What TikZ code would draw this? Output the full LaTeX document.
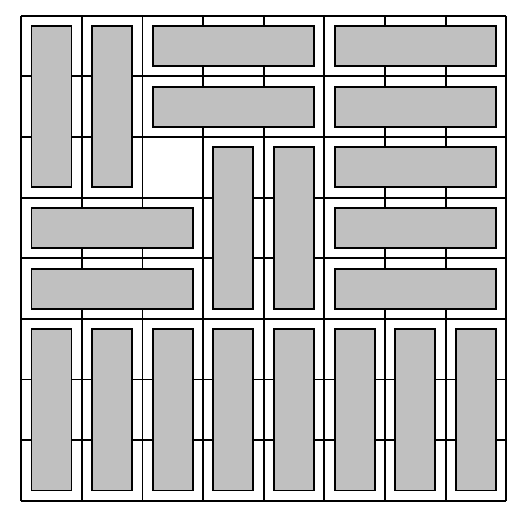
\documentclass[tikz,border=0pt]{standalone}
\usepackage{tikz}
\definecolor{tilegray}{RGB}{192,192,192}

\begin{document}
\begin{tikzpicture}[grid/.style = {draw, line width=0.85pt}, tile/.style = {draw, fill=tilegray, line width=0.9pt}]
            \useasboundingbox (-0.35,-0.21) rectangle (8.26,8.26);
            \draw[grid] (0,0) grid (8,8);

            % upper part: x1/y1/x2/y2 of each piece, in cells
            \foreach \xa/\ya/\xb/\yb in {0/5/1/8, 1/5/2/8, 2/7/5/8, 5/7/8/8, 2/6/5/7, 5/6/8/7, 5/5/8/6,
                    3/3/4/6, 4/3/5/6, 0/4/3/5, 0/3/3/4, 5/4/8/5, 5/3/8/4}
                \draw[tile] (\xa+0.17,\ya+0.17) rectangle (\xb-0.17,\yb-0.17);

            % bottom row of upright pieces
            \foreach \c in {0,...,7}
                \draw[tile] (\c+0.17,0.17) rectangle (\c+0.83,2.83);
        \end{tikzpicture}
\end{document}
